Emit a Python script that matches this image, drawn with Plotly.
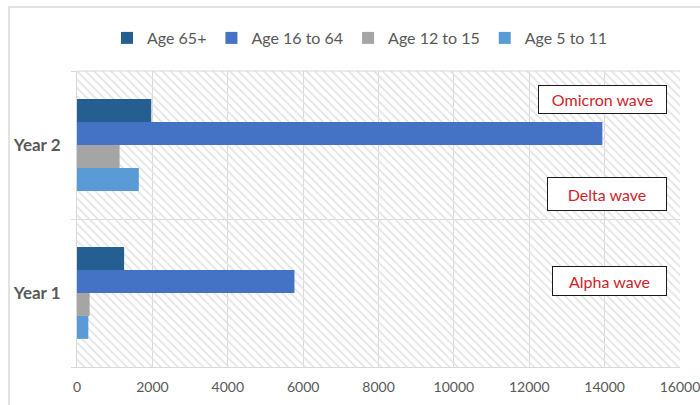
import plotly.graph_objects as go

categories = ["Year 1", "Year 2"]
series_names = ["Age 5 to 11", "Age 12 to 15", "Age 16 to 64", "Age 65+"]
series_values = {
    "Age 65+": [1250, 1970],
    "Age 16 to 64": [5770, 13940],
    "Age 12 to 15": [335, 1130],
    "Age 5 to 11": [300, 1640],
}
colors = {
    "Age 65+": "#255E91",
    "Age 16 to 64": "#4472C4",
    "Age 12 to 15": "#A5A5A5",
    "Age 5 to 11": "#5B9BD5",
}
x_ticks = list(range(0, 16001, 2000))
annotations_text = ["Omicron wave", "Delta wave", "Alpha wave"]

W, H = 700, 405
ml, mr, mt, mb = 77, 20, 71, 38
pw, ph = W - ml - mr, H - mt - mb


def px(x):
    return (x - ml) / pw


def py(y):
    return (H - mb - y) / ph


fig = go.Figure()

# hatched background of plot area
fig.add_trace(go.Bar(
    y=[0.5], x=[x_ticks[-1]], base=0, width=1, orientation="h",
    xaxis="x", yaxis="y",
    marker=dict(color="rgba(0,0,0,0)", line=dict(width=0),
                pattern=dict(shape="\\", fillmode="replace", fgcolor="#E3E3E3",
                             size=6, solidity=0.28)),
    showlegend=False, hoverinfo="skip",
))

for name in series_names:
    fig.add_trace(go.Bar(
        y=categories, x=series_values[name], name=name, orientation="h",
        xaxis="x", yaxis="y2",
        marker=dict(color=colors[name], line=dict(width=0)),
    ))

font_family = "Lato, 'Open Sans', sans-serif"

fig.update_layout(
    width=W, height=H,
    margin=dict(l=ml, r=mr, t=mt, b=mb, autoexpand=False),
    paper_bgcolor="white", plot_bgcolor="white",
    barmode="group", bargap=0.38, bargroupgap=0,
    font=dict(family=font_family, color="#595959", size=14),
    legend=dict(orientation="h", x=px(360), xanchor="center", y=py(38), yanchor="middle",
                traceorder="reversed", font=dict(size=16, color="#595959"),
                itemwidth=30, tracegroupgap=0),
    xaxis=dict(range=[0, x_ticks[-1]], tickvals=x_ticks, tickformat="d",
               showgrid=True, gridcolor="#D9D9D9", gridwidth=1,
               showline=True, linecolor="#D9D9D9", linewidth=1,
               zeroline=False, ticks="", ticklabelstandoff=7,
               ticklabeloverflow="allow", automargin=False,
               tickfont=dict(size=14, color="#595959"), fixedrange=True),
    yaxis=dict(range=[0, 1], showticklabels=False, showgrid=False, zeroline=False,
               showline=False, fixedrange=True, automargin=False),
    yaxis2=dict(overlaying="y", side="left", type="category", range=[-0.5, 1.5],
                tickson="boundaries", ticks="outside", ticklen=5, tickcolor="#D9D9D9",
                showgrid=True, gridcolor="#D9D9D9", gridwidth=1,
                showline=True, linecolor="#D9D9D9", linewidth=1,
                ticklabelstandoff=12, automargin=False,
                tickfont=dict(size=17, color="#595959", family=font_family, weight="bold"),
                fixedrange=True),
)

# top border of plot area
fig.add_shape(type="line", xref="paper", yref="paper", x0=0, x1=1, y0=1, y1=1,
              line=dict(color="#D9D9D9", width=1))
# chart outer border
fig.add_shape(type="rect", xref="paper", yref="paper",
              x0=px(9), x1=px(W + 5), y0=py(W), y1=py(7),
              line=dict(color="#D9D9D9", width=1.5), fillcolor="rgba(0,0,0,0)", layer="below")

boxes = [
    (538, 667, 85, 114),
    (547, 667, 177, 211),
    (552, 667, 266, 296),
]
for text, (x0, x1, y0, y1) in zip(annotations_text, boxes):
    fig.add_annotation(
        xref="paper", yref="paper", x=px((x0 + x1) / 2), y=py((y0 + y1) / 2),
        text=text, showarrow=False, xanchor="center", yanchor="middle",
        width=x1 - x0 - 2, height=y1 - y0 - 2, borderpad=0,
        bordercolor="#1A1A1A", borderwidth=1, bgcolor="white",
        font=dict(size=16, color="#D0232A", family=font_family),
    )

fig.write_html("out.html")
